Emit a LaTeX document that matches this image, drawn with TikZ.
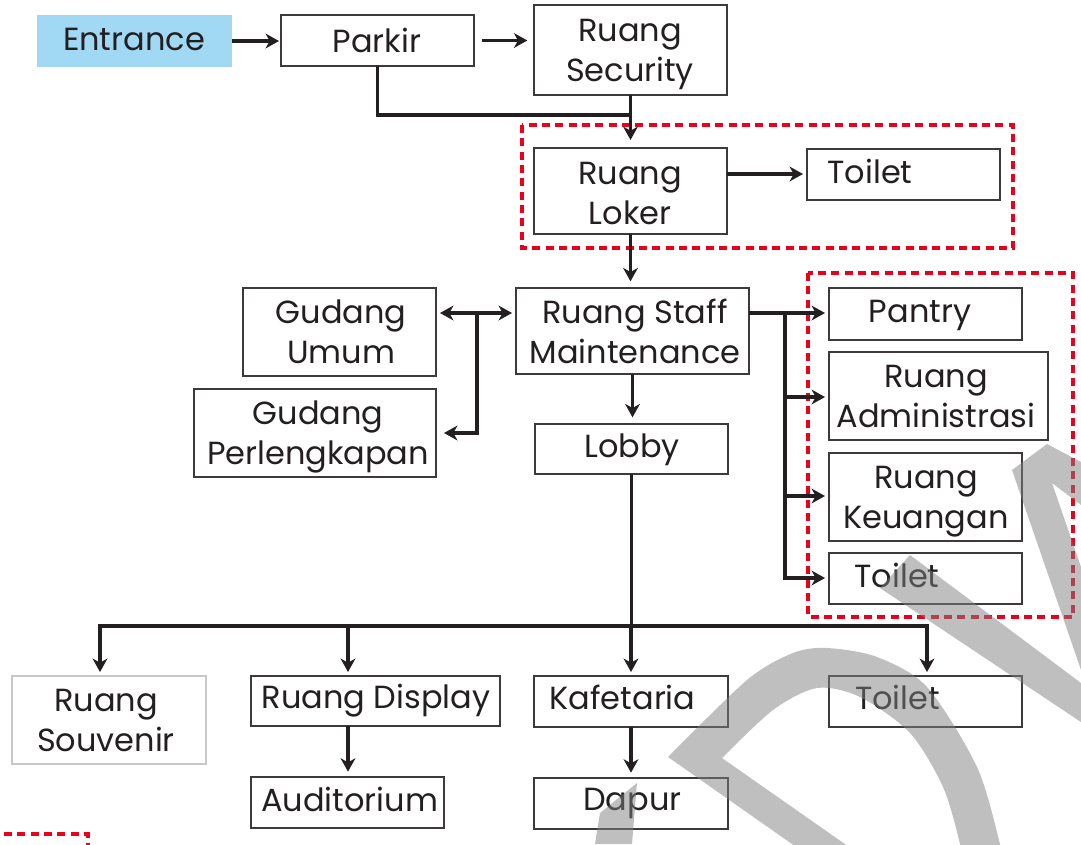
\documentclass[tikz,border=0pt]{standalone}
\usepackage{fontspec}
\setmainfont{Poppins}
\usetikzlibrary{arrows.meta,fit}
\definecolor{txt}{HTML}{231F20}
\definecolor{boxc}{HTML}{3E3A39}
\definecolor{entc}{HTML}{A1D9F5}
\definecolor{redd}{HTML}{E8001C}
\definecolor{wm}{HTML}{808080}
\definecolor{souvc}{HTML}{C8C8C8}
\tikzset{
  room/.style={draw=boxc, line width=1.2pt, inner sep=0pt, outer sep=0pt},
  lbl/.style={text=txt, font=\fontsize{24}{30}\selectfont, align=center, inner sep=0pt,
    execute at begin node=\strut, execute at end node=\strut},
  tip/.tip={Stealth[length=10pt,width=11pt,inset=3pt]},
  conn/.style={draw=txt, line width=2.4pt, -tip},
  wire/.style={draw=txt, line width=2.4pt},
  zone/.style={draw=redd, line width=2.5pt, dash pattern=on 6pt off 4pt},
}
\begin{document}
\begin{tikzpicture}[x=0.75pt,y=-0.75pt]
\useasboundingbox (0,0) rectangle (1081,844);
% boxes
\node[fill=entc, inner sep=0pt, outer sep=0pt, fit={(37,15)(232,67)}] (entr) {};
\node[room, fit={(281,15)(474,66)}] (parkir) {};
\node[room, fit={(534,5)(727,95)}] (sec) {};
\node[room, fit={(534,148)(727,234)}] (loker) {};
\node[room, fit={(807,149)(1000,200)}] (toiletA) {};
\node[room, fit={(516,288)(749,374)}] (staff) {};
\node[room, fit={(243,288)(436,376)}] (gumum) {};
\node[room, fit={(194,389)(436,477)}] (gperl) {};
\node[room, fit={(535,424)(728,474)}] (lobby) {};
\node[room, fit={(829,288)(1022,340)}] (pantry) {};
\node[room, fit={(829,352)(1048,440)}] (admin) {};
\node[room, fit={(829,453)(1022,541)}] (keu) {};
\node[room, fit={(829,553)(1022,604)}] (toiletB) {};
\node[room, draw=souvc, fit={(12,676)(206,764)}] (souv) {};
\node[room, fit={(251,676)(500,726)}] (disp) {};
\node[room, fit={(251,777)(444,828)}] (audi) {};
\node[room, fit={(534,676)(728,727)}] (kafe) {};
\node[room, fit={(534,778)(728,829)}] (dapur) {};
\node[room, fit={(829,676)(1022,727)}] (toiletC) {};
% labels
\node[lbl] (tentr) at (134,42) {Entrance};
\node[lbl] (tpark) at (377,44) {Parkir};
\node[lbl] (tsec) at (630,56.5) {Ruang\\Security};
\node[lbl] (tlok) at (630,199) {Ruang\\Loker};
\node[lbl] (tta) at (870,175) {Toilet};
\node[lbl] (tgu) at (341,338) {Gudang\\Umum};
\node[lbl] (tgp) at (318,439) {Gudang\\Perlengkapan};
\node[lbl] (tstaff) at (635,337.5) {Ruang Staff\\Maintenance};
\node[lbl] (tlob) at (632,449) {Lobby};
\node[lbl] (tpan) at (920,314) {Pantry};
\node[lbl] (tadm) at (936,402.5) {Ruang\\Administrasi};
\node[lbl] (tkeu) at (926,503) {Ruang\\Keuangan};
\node[lbl] (ttb) at (897,579) {Toilet};
\node[lbl] (tsouv) at (106,726) {Ruang\\Souvenir};
\node[lbl] (tdisp) at (376,700) {Ruang Display};
\node[lbl] (taud) at (349.5,803) {Auditorium};
\node[lbl] (tkafe) at (622.5,701) {Kafetaria};
\node[lbl] (tdap) at (632.5,802) {Dapur};
\node[lbl] (ttc) at (897.5,701) {Toilet};
% zones
\draw[zone] (522,125) rectangle (1013,248);
\draw[zone] (808,273) rectangle (1073,617);
\draw[zone] (4,834) -- (88,834) -- (88,850);
% connectors
\draw[conn, shorten >=1.5pt] (entr.east) -- (entr.east -| parkir.west);
\draw[conn, shorten <=6pt, shorten >=5pt] (parkir.east) -- (parkir.east -| sec.west);
\coordinate (m1) at (630.5,115);
\draw[wire] (parkir.south) |- (m1);
\draw[conn, shorten >=6pt] (sec.south) -- (loker.north);
\coordinate (lt) at (0,174);
\draw[conn, shorten >=3pt] (loker.east |- lt) -- (toiletA.west |- lt);
\draw[conn, shorten >=5pt] (loker.south) -- (loker.south |- staff.north);
\coordinate (gj) at (477,313);
\coordinate (gp) at (477,433);
\draw[conn, tip-tip, shorten <=3pt, shorten >=3pt] (gumum.east |- gj) -- (staff.west |- gj);
\draw[conn, shorten >=6pt] (gj) |- (gperl.east |- gp);
\draw[conn, shorten >=5pt] (staff.south) -- (staff.south |- lobby.north);
\coordinate (rj) at (785,313);
\coordinate (ra) at (785,397);
\coordinate (rk) at (785,496);
\coordinate (rt) at (785,578);
\draw[conn, shorten >=3pt] (staff.east |- rj) -- (pantry.west |- rj);
\draw[conn, shorten >=3pt] (rj) |- (admin.west |- ra);
\draw[conn, shorten >=3pt] (rj) |- (keu.west |- rk);
\draw[conn, shorten >=3pt] (rj) |- (toiletB.west |- rt);
\coordinate (bus) at (631,626);
\coordinate (b1) at (100,626);
\coordinate (b2) at (348,626);
\coordinate (b4) at (927,626);
\draw[wire] (lobby.south) -- (lobby.south |- bus);
\draw[conn, shorten >=3pt] (bus) -| (b1 |- souv.north);
\draw[conn, shorten >=3pt] (b2) -- (b2 |- disp.north);
\draw[conn, shorten >=3pt] (bus) -- (bus |- kafe.north);
\draw[conn, shorten >=3pt] (bus) -| (b4 |- toiletC.north);
\draw[conn, shorten >=4pt] (b2 |- disp.south) -- (b2 |- audi.north);
\draw[conn, shorten >=4pt] (kafe.south) -- (kafe.south |- dapur.north);
% watermark
\begin{scope}
\clip (0,0) rectangle (1081,844);
\fill[wm, fill opacity=0.5, even odd rule]
  plot[smooth] coordinates {(668,757) (747,680) (793,653) (827,648) (877,657) (927,687) (977,767) (1000,844) (1005,870)} -- (829,870) -- cycle
  plot[smooth] coordinates {(722,758) (773,710) (817,688) (860,697) (910,733) (943,787) (960,844) (963,870)} -- (882,870) -- cycle;
\fill[wm, fill opacity=0.5] (595,844) -- (600,813) -- (637,783) -- (632,844) -- cycle;
\fill[wm, fill opacity=0.5] (880,588) -- (910,555) -- (1081,683) -- (1081,722) -- cycle;
\fill[wm, fill opacity=0.5] (1012,470) -- (1047,444) -- (1081,462) -- (1081,505) -- (1052,483) -- (1081,567) -- (1081,670) -- cycle;
\end{scope}
\end{tikzpicture}
\end{document}
